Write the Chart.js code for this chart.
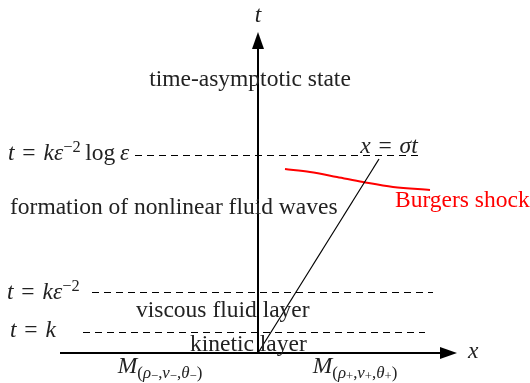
<!DOCTYPE html>
<html lang="en">
<head>
<meta charset="UTF-8">
<title>Time-asymptotic layers</title>
<script src="https://cdn.jsdelivr.net/npm/chart.js"></script>
<style>
  body, html { margin: 0; background: #fff; }
  #wrap { width: 530px; height: 383px; }
</style>
</head>
<body>
<div id="wrap"><canvas id="myChart" width="530" height="383"></canvas></div>
<script>
// time levels: t = k, t = k eps^-2, t = k eps^-2 log eps
var levelT = [20.5, 60.5, 197.5];
var levelFrom = [-175, -166, -123];
var levelTo = [167, 175, 165];

// axes (x from left end to arrow tip, t from origin to arrow tip)
var xAxisX = [-198, 199];
var tAxisT = [0, 321];

// shock path x = sigma t
var shockX = [0, 121];
var shockT = [0, 194];

// Burgers shock profile (red)
var burgersX = [27, 52, 79, 105, 135, 172];
var burgersT = [184, 181, 176, 171, 166, 163];

function pts(xs, ts) {
  return xs.map(function (x, i) { return { x: x, y: ts[i] }; });
}

var datasets = [];
levelT.forEach(function (t, i) {
  datasets.push({
    data: [{ x: levelFrom[i], y: t }, { x: levelTo[i], y: t }],
    borderColor: '#000', borderWidth: 1, borderDash: [7, 5]
  });
});
datasets.push({ data: [{ x: xAxisX[0], y: 0 }, { x: xAxisX[1] - 8, y: 0 }], borderColor: '#000', borderWidth: 2 });
datasets.push({ data: [{ x: 0, y: tAxisT[0] }, { x: 0, y: tAxisT[1] - 8 }], borderColor: '#000', borderWidth: 2 });
datasets.push({ data: pts(shockX, shockT), borderColor: '#000', borderWidth: 1.2 });
datasets.push({ data: pts(burgersX, burgersT), borderColor: '#ff0000', borderWidth: 2, cubicInterpolationMode: 'monotone' });

// text helpers
var FONT = '"Liberation Serif", "Times New Roman", serif';
var EQ = '\u2004=\u2004';
function R(t, sc, dy) { return { t: t, sc: sc || 1, dy: dy || 0 }; }
function I(t, sc, dy) { return { t: t, i: true, sc: sc || 1, dy: dy || 0 }; }
function sub(s) { return s.map(function (g) { g.sc = g.sc * 0.72; g.dy = g.dy + 0.3; return g; }); }
function sup2() { return R('\u22122', 0.7, -0.27); }

function mLabel(sign) {
  return [I('M')].concat(sub([R('('), I('ρ'), R(sign, 0.75, 0.12), R(','), I('v'), R(sign, 0.75, 0.12), R(','), I('θ'), R(sign, 0.75, 0.12), R(')')]));
}

var notes = [
  { x: 0, y: 337, align: 'center', segs: [I('t')] },
  { x: 210, y: 1, align: 'left', segs: [I('x')] },
  { x: -8, y: 273, align: 'center', segs: [R('time-asymptotic state')] },
  { x: 131, y: 206, align: 'center', segs: [I('x'), R(EQ), I('σt')] },
  { x: -248, y: 145, align: 'left', segs: [R('formation of nonlinear fluid waves')] },
  { x: 137, y: 152, align: 'left', segs: [R('Burgers shock')], color: '#ff0000' },
  { x: -250, y: 199, align: 'left', segs: [I('t'), R(EQ), I('kε'), sup2(), R('\u2009log\u2009'), I('ε')] },
  { x: -251, y: 60, align: 'left', segs: [I('t'), R(EQ), I('kε'), sup2()] },
  { x: -248, y: 22, align: 'left', segs: [I('t'), R(EQ), I('k')] },
  { x: -122, y: 42, align: 'left', segs: [R('viscous fluid layer')] },
  { x: -68, y: 8, align: 'left', segs: [R('kinetic layer')] },
  { x: -98, y: -14, align: 'center', segs: mLabel('\u2212') },
  { x: 97, y: -14, align: 'center', segs: mLabel('+') }
];

var SIZE = 23.5;
function fontOf(s) { return (s.i ? 'italic ' : '') + (SIZE * s.sc).toFixed(1) + 'px ' + FONT; }

var diagramPlugin = {
  id: 'diagram',
  afterDatasetsDraw: function (chart) {
    var ctx = chart.ctx, xs = chart.scales.x, ys = chart.scales.y;
    ctx.save();
    // arrowheads
    ctx.fillStyle = '#000';
    var tx = xs.getPixelForValue(xAxisX[1]), ty = ys.getPixelForValue(0);
    ctx.beginPath(); ctx.moveTo(tx, ty); ctx.lineTo(tx - 17, ty - 6); ctx.lineTo(tx - 17, ty + 6); ctx.closePath(); ctx.fill();
    tx = xs.getPixelForValue(0); ty = ys.getPixelForValue(tAxisT[1]);
    ctx.beginPath(); ctx.moveTo(tx, ty); ctx.lineTo(tx - 6, ty + 17); ctx.lineTo(tx + 6, ty + 17); ctx.closePath(); ctx.fill();
    // labels
    ctx.textBaseline = 'middle';
    ctx.textAlign = 'left';
    notes.forEach(function (n) {
      var w = 0;
      n.segs.forEach(function (s) { ctx.font = fontOf(s); w += ctx.measureText(s.t).width; });
      var px = xs.getPixelForValue(n.x), py = ys.getPixelForValue(n.y);
      if (n.align === 'center') px -= w / 2;
      ctx.fillStyle = n.color || '#222';
      n.segs.forEach(function (s) {
        ctx.font = fontOf(s);
        ctx.fillText(s.t, px, py + s.dy * SIZE);
        px += ctx.measureText(s.t).width;
      });
    });
    ctx.restore();
  }
};

new Chart(document.getElementById('myChart'), {
  type: 'scatter',
  data: { datasets: datasets },
  options: {
    responsive: false,
    animation: false,
    showLine: true,
    elements: { point: { radius: 0 }, line: { tension: 0 } },
    layout: { padding: 0 },
    plugins: { legend: { display: false }, tooltip: { enabled: false } },
    scales: {
      x: { type: 'linear', display: false, min: -258, max: 272 },
      y: { type: 'linear', display: false, min: -30, max: 353 }
    }
  },
  plugins: [diagramPlugin]
});
</script>
</body>
</html>
